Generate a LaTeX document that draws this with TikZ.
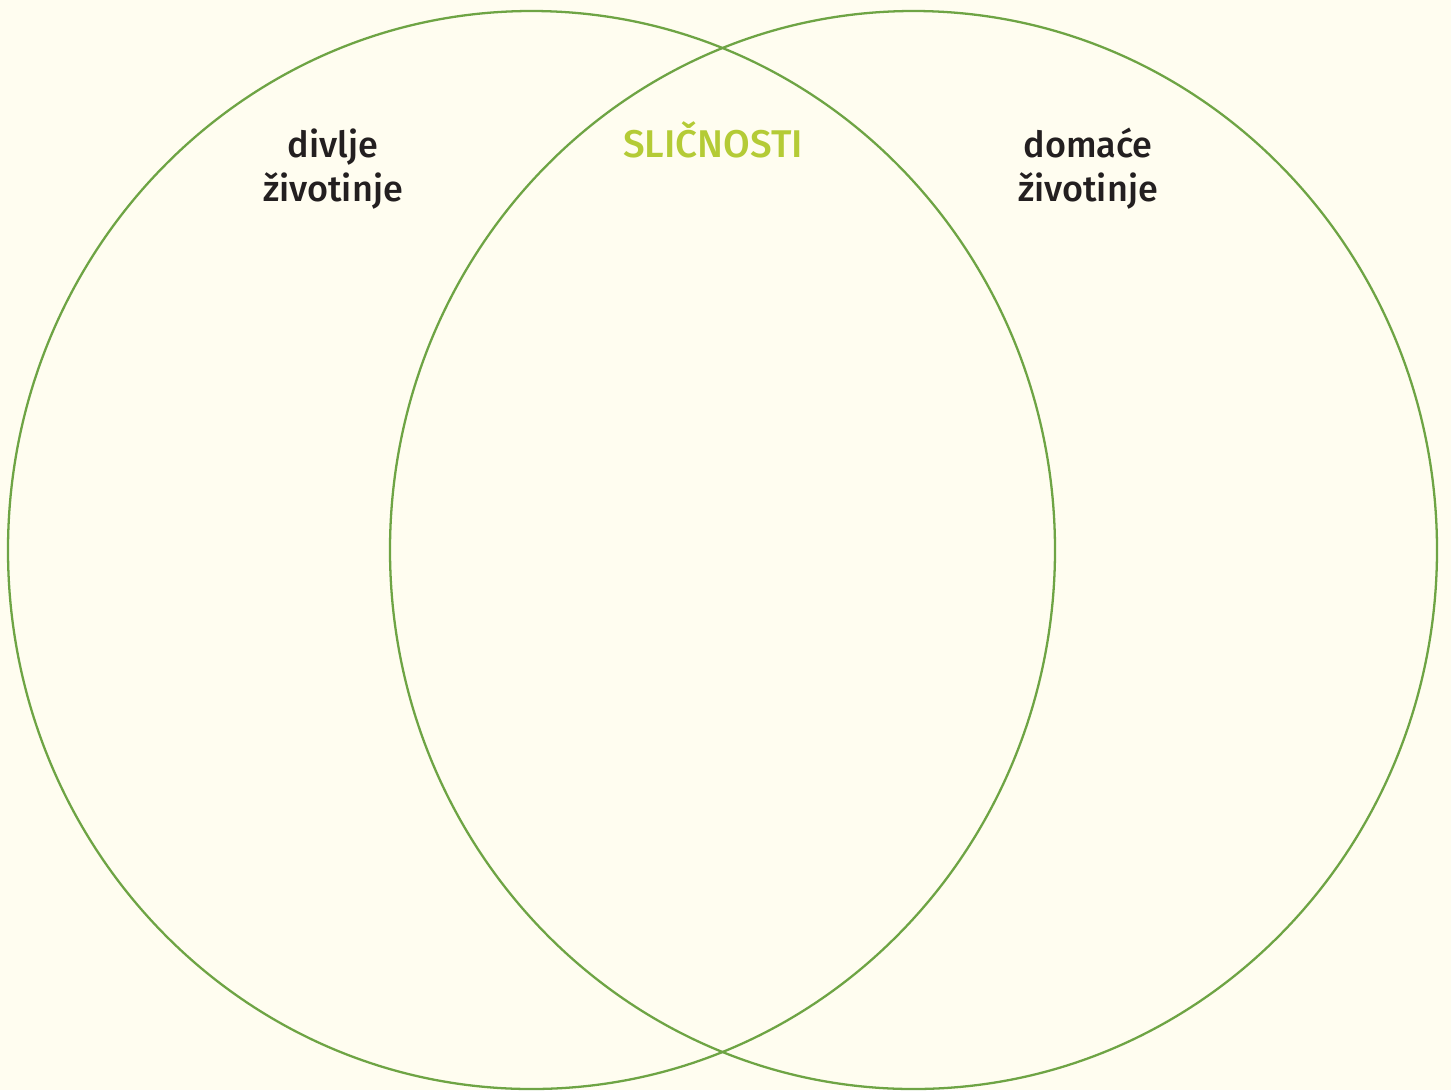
\documentclass[tikz,border=0pt]{standalone}
\usepackage{fontspec}
\setmainfont{Fira Sans}[BoldFont={Fira Sans Medium}]
\usepackage{xcolor}
\usetikzlibrary{positioning}
\definecolor{papercolor}{HTML}{FFFDF0}
\definecolor{ringcolor}{HTML}{6EA444}
\definecolor{commoncolor}{HTML}{B4CB36}
\definecolor{inkcolor}{HTML}{231F20}
\tikzset{ring/.style={draw=ringcolor,line width=1.3pt},set label/.style={font=\fontsize{20.5}{25}\selectfont\bfseries,text=inkcolor,align=center,inner sep=0pt},common label/.style={set label,font=\fontsize{22}{25}\selectfont\bfseries,text=commoncolor}}

\begin{document}
\begin{tikzpicture}[x=0.02cm,y=-0.02cm]
 \fill[papercolor] (0,0) rectangle (1451,1090);
 \useasboundingbox (0,0) rectangle (1451,1090);
 \draw[ring] (531.5,550) ellipse [x radius=523.5,y radius=539];
 \draw[ring] (913.5,550) ellipse [x radius=523.5,y radius=539];
 \node[set label,anchor=base] (wild) at (333,201) {divlje\\životinje};
 \node[common label,anchor=base] (common) at (713,157) {SLIČNOSTI};
 \node[set label,anchor=base] (tame) at (1088,201) {domaće\\životinje};
\end{tikzpicture}
\end{document}
